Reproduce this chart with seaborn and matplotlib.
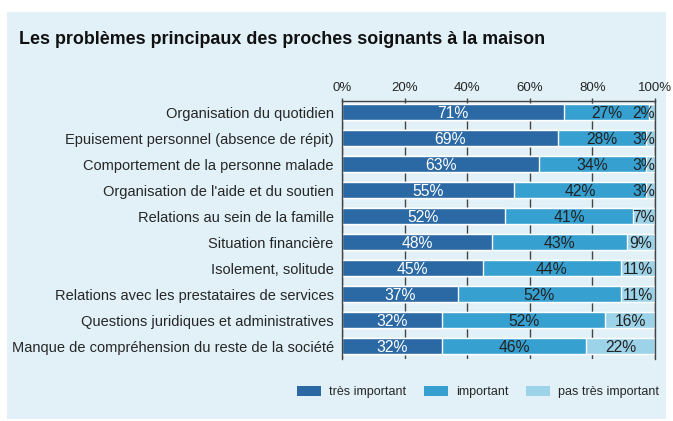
import pandas as pd
import numpy as np
import matplotlib
matplotlib.use('Agg')
import matplotlib.pyplot as plt
from matplotlib.patches import Rectangle, Patch
import seaborn as sns

# data
categories = ['Organisation du quotidien',
              'Epuisement personnel (absence de répit)',
              'Comportement de la personne malade',
              "Organisation de l'aide et du soutien",
              'Relations au sein de la famille',
              'Situation financière',
              'Isolement, solitude',
              'Relations avec les prestataires de services',
              'Questions juridiques et administratives',
              'Manque de compréhension du reste de la société']
tres_important = [71, 69, 63, 55, 52, 48, 45, 37, 32, 32]
important = [27, 28, 34, 42, 41, 43, 44, 52, 52, 46]
pas_tres_important = [2, 3, 3, 3, 7, 9, 11, 11, 16, 22]
series_names = ['très important', 'important', 'pas très important']
xticks = [0, 20, 40, 60, 80, 100]

c_dark = '#2b69a5'
c_mid = '#36a1d1'
c_light = '#9dd3e9'
bg = '#e1f1f7'

df = pd.DataFrame({'cat': categories, 'tres': tres_important,
                   'imp': important, 'pas': pas_tres_important})
df['c1'] = df['tres']
df['c2'] = df['tres'] + df['imp']
df['c3'] = df['c2'] + df['pas']

sns.set_style('white')
plt.rcParams['font.family'] = ['Liberation Sans', 'DejaVu Sans']

fig = plt.figure(figsize=(6.73, 4.21), dpi=100)
fig.patches.append(Rectangle((7/673, 1-419/421), 659/673, 407/421,
                             transform=fig.transFigure, facecolor=bg,
                             edgecolor='none', zorder=-10))
ax = fig.add_axes([342/673, 1-359/421, 313/673, 258.3/421])
ax.set_facecolor(bg)

# stacked look: draw cumulative totals back to front
sns.barplot(data=df, x='c3', y='cat', color=c_light, orient='h', width=0.59,
            saturation=1, ax=ax)
sns.barplot(data=df, x='c2', y='cat', color=c_mid, orient='h', width=0.59,
            saturation=1, ax=ax)
sns.barplot(data=df, x='c1', y='cat', color=c_dark, orient='h', width=0.59,
            saturation=1, ax=ax)

for i, r in df.iterrows():
    ax.text(r['tres']/2, i, f"{r['tres']}%", ha='center', va='center_baseline',
            color='white', fontsize=11.3)
    ax.text(r['tres'] + r['imp']/2, i, f"{r['imp']}%", ha='center',
            va='center_baseline', color='#222222', fontsize=11.3)
    xc = min(r['c2'] + r['pas']/2, 96.3)
    ax.text(xc, i, f"{r['pas']}%", ha='center', va='center_baseline',
            color='#222222', fontsize=11.3)

ax.set_xlim(0, 100)
ax.set_ylim(9.5, -0.435)
ax.set_xticks(xticks)
ax.set_xticklabels([f'{t}%' for t in xticks], fontsize=9.5)
ax.xaxis.tick_top()
ax.tick_params(axis='x', length=2.5, width=1, color='#444444', pad=2, top=True,
               bottom=False)
ax.tick_params(axis='y', length=0, pad=6, labelsize=10.5)
ax.xaxis.grid(True, color='#444444', linewidth=1)
ax.set_axisbelow(True)
ax.set_xlabel('')
ax.set_ylabel('')
for s in ['left', 'top', 'right']:
    ax.spines[s].set_color('#444444')
    ax.spines[s].set_linewidth(1)
ax.spines['bottom'].set_visible(False)

fig.text(19/673, 1-39/421, 'Les problèmes principaux des proches soignants à la maison',
         fontsize=12.9, fontweight='bold', va='center', ha='left', color='#111111')

handles = [Patch(facecolor=c, edgecolor='none') for c in (c_dark, c_mid, c_light)]
fig.legend(handles, series_names, loc='center', bbox_to_anchor=(478/673, 1-392/421),
           ncol=3, frameon=False, fontsize=9, handlelength=1.9, handleheight=0.9,
           columnspacing=1.45, handletextpad=0.65)

fig.savefig('out.png', dpi=100, facecolor='white')
